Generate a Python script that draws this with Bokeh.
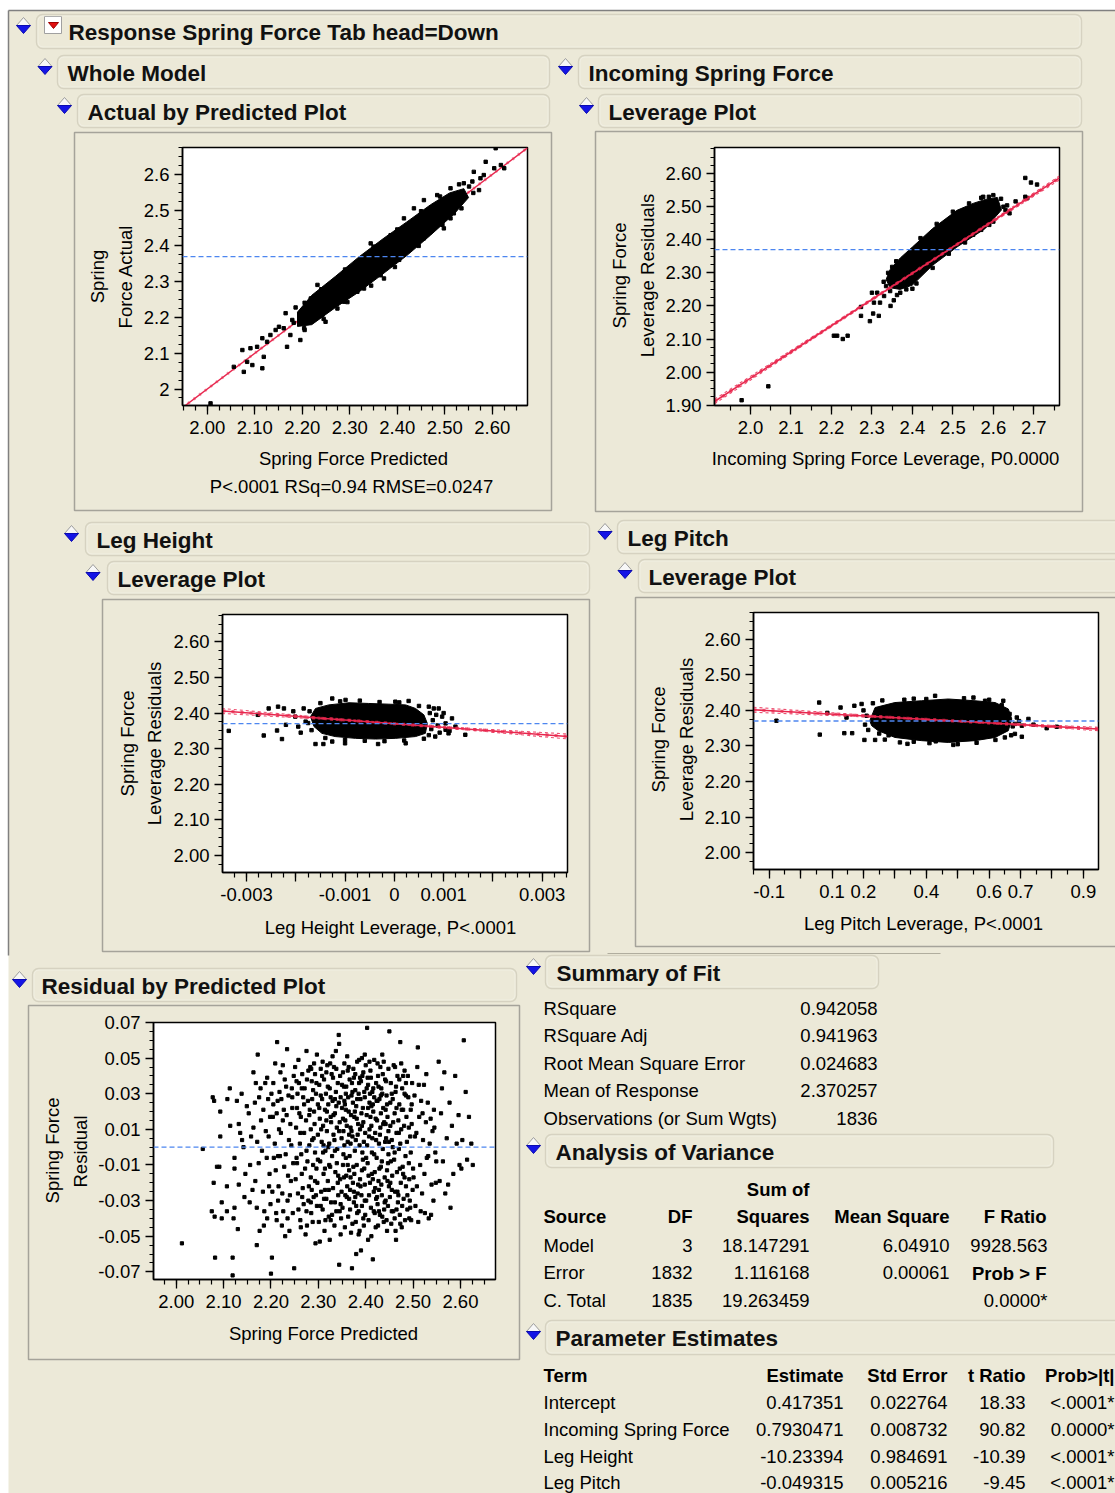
import numpy as np
from bokeh.plotting import figure
from bokeh.models import Range1d, FixedTicker, Span, BoxAnnotation, GridBox
from bokeh.core.properties import value
from bokeh.embed import file_html
from bokeh.resources import INLINE

FONT = "Liberation Sans"
PAGE_BG = "#ece9d8"
RED = "#e8264d"
REF_BLUE = "#4d86f0"
W, H = 1115, 1493

# ---------------- model results ----------------
mean_response = 2.370257
coef_incoming = 0.7930471
coef_height = -10.23394
coef_pitch = -0.049315
incoming_center = 2.49
height_center = 0.0
pitch_center = 0.49

summary_terms = ["RSquare", "RSquare Adj", "Root Mean Square Error",
                 "Mean of Response", "Observations (or Sum Wgts)"]
summary_values = ["0.942058", "0.941963", "0.024683", "2.370257", "1836"]

anova_source = ["Model", "Error", "C. Total"]
anova_df = ["3", "1832", "1835"]
anova_ss = ["18.147291", "1.116168", "19.263459"]
anova_ms = ["6.04910", "0.00061", ""]
anova_f = ["9928.563", "", "0.0000*"]

param_terms = ["Intercept", "Incoming Spring Force", "Leg Height", "Leg Pitch"]
param_est = ["0.417351", "0.7930471", "-10.23394", "-0.049315"]
param_se = ["0.022764", "0.008732", "0.984691", "0.005216"]
param_t = ["18.33", "90.82", "-10.39", "-9.45"]
param_p = ["<.0001*", "0.0000*", "<.0001*", "<.0001*"]

# ---------------- axis ticks ----------------
pred_ticks = [2.0, 2.1, 2.2, 2.3, 2.4, 2.5, 2.6]
pred_labels = ["2.00", "2.10", "2.20", "2.30", "2.40", "2.50", "2.60"]
actual_labels = ["2", "2.1", "2.2", "2.3", "2.4", "2.5", "2.6"]
lev_y_ticks = [1.9, 2.0, 2.1, 2.2, 2.3, 2.4, 2.5, 2.6]
lev_y_labels = ["1.90", "2.00", "2.10", "2.20", "2.30", "2.40", "2.50", "2.60"]
inc_x_ticks = [2.0, 2.1, 2.2, 2.3, 2.4, 2.5, 2.6, 2.7]
inc_x_labels = ["2.0", "2.1", "2.2", "2.3", "2.4", "2.5", "2.6", "2.7"]
hgt_x_ticks = [-0.003, -0.002, -0.001, 0.0, 0.001, 0.002, 0.003]
hgt_x_labels = ["-0.003", "", "-0.001", "0", "0.001", "", "0.003"]
pit_x_ticks = [-0.1, 0.0, 0.1, 0.2, 0.3, 0.4, 0.5, 0.6, 0.7, 0.8, 0.9]
pit_x_labels = ["-0.1", "", "0.1", "0.2", "", "0.4", "", "0.6", "0.7", "", "0.9"]
res_y_ticks = [-0.07, -0.05, -0.03, -0.01, 0.01, 0.03, 0.05, 0.07]
res_y_labels = ["-0.07", "-0.05", "-0.03", "-0.01", "0.01", "0.03", "0.05", "0.07"]

# ---------------- point clouds ----------------
# Actual by Predicted: dense core outline and individual points
abp_core = [(2.19, 2.215), (2.22, 2.262), (2.27, 2.315), (2.32, 2.37), (2.37, 2.42),
            (2.42, 2.467), (2.47, 2.515), (2.51, 2.548), (2.54, 2.56), (2.55, 2.535),
            (2.52, 2.49), (2.47, 2.43), (2.42, 2.373), (2.37, 2.322), (2.32, 2.272),
            (2.27, 2.228), (2.22, 2.18), (2.19, 2.175)]
abp_points = [(2.007, 1.960), (2.056, 2.062), (2.077, 2.048), (2.074, 2.109), (2.095, 2.067),
              (2.116, 2.058), (2.119, 2.090), (2.084, 2.076), (2.091, 2.114), (2.105, 2.118),
              (2.116, 2.142), (2.126, 2.132), (2.133, 2.151), (2.144, 2.165), (2.151, 2.174),
              (2.165, 2.212), (2.168, 2.118), (2.175, 2.151), (2.196, 2.137), (2.204, 2.170),
              (2.161, 2.170), (2.179, 2.193), (2.196, 2.188), (2.214, 2.221), (2.225, 2.198),
              (2.249, 2.188), (2.218, 2.253), (2.232, 2.291), (2.561, 2.607), (2.586, 2.635),
              (2.607, 2.673), (2.618, 2.626), (2.625, 2.617), (2.604, 2.617), (2.575, 2.589),
              (2.572, 2.556), (2.551, 2.566), (2.540, 2.575), (2.512, 2.561), (2.526, 2.519),
              (2.582, 2.598), (2.558, 2.580), (2.456, 2.528), (2.477, 2.505), (2.512, 2.477),
              (2.414, 2.477), (2.372, 2.309), (2.323, 2.337), (2.344, 2.407), (2.404, 2.361),
              (2.519, 2.491), (2.288, 2.244), (2.316, 2.272), (2.260, 2.291), (2.274, 2.225),
              (2.242, 2.207), (2.484, 2.542), (2.435, 2.505), (2.386, 2.430), (2.456, 2.421),
              (2.498, 2.449), (2.365, 2.318), (2.330, 2.281), (2.186, 2.228), (2.205, 2.241),
              (2.24, 2.279), (2.29, 2.334), (2.35, 2.398), (2.40, 2.446), (2.45, 2.497),
              (2.49, 2.538), (2.53, 2.572), (2.56, 2.548), (2.535, 2.505), (2.495, 2.459),
              (2.445, 2.400), (2.395, 2.341), (2.345, 2.289), (2.295, 2.243), (2.245, 2.196),
              (2.205, 2.165), (2.182, 2.185)]

# Incoming Spring Force leverage
inc_core = [(2.345, 2.31), (2.37, 2.345), (2.40, 2.378), (2.45, 2.434), (2.51, 2.489),
            (2.55, 2.51), (2.58, 2.522), (2.61, 2.528), (2.62, 2.49), (2.60, 2.462),
            (2.58, 2.434), (2.51, 2.378), (2.45, 2.323), (2.40, 2.263), (2.37, 2.25),
            (2.345, 2.255), (2.335, 2.28)]
inc_points = [(1.978, 1.915), (2.044, 1.957), (2.206, 2.110), (2.214, 2.110), (2.228, 2.100),
              (2.240, 2.110), (2.273, 2.197), (2.273, 2.170), (2.295, 2.154), (2.303, 2.177),
              (2.317, 2.170), (2.300, 2.240), (2.313, 2.240), (2.305, 2.210), (2.320, 2.210),
              (2.330, 2.230), (2.346, 2.200), (2.354, 2.217), (2.362, 2.233), (2.329, 2.273),
              (2.679, 2.587), (2.693, 2.573), (2.708, 2.567), (2.679, 2.530), (2.684, 2.526),
              (2.655, 2.516), (2.634, 2.504), (2.619, 2.524), (2.589, 2.530), (2.600, 2.535),
              (2.575, 2.530), (2.630, 2.490), (2.640, 2.480), (2.345, 2.245), (2.335, 2.260),
              (2.370, 2.240), (2.385, 2.250), (2.400, 2.252), (2.340, 2.300), (2.350, 2.318),
              (2.570, 2.430), (2.600, 2.455), (2.625, 2.500), (2.550, 2.415), (2.590, 2.445),
              (2.36, 2.335), (2.42, 2.405), (2.46, 2.448), (2.50, 2.485), (2.54, 2.510),
              (2.45, 2.315), (2.49, 2.358), (2.53, 2.392), (2.41, 2.268), (2.57, 2.527)]

# Leg Height leverage
hgt_core = [(-0.0017, 2.390), (-0.0016, 2.413), (-0.00133, 2.423), (-0.00092, 2.429),
            (-0.00052, 2.427), (-0.00011, 2.425), (0.00023, 2.423), (0.00043, 2.413),
            (0.0006, 2.395), (0.00067, 2.371), (0.00063, 2.343), (0.00043, 2.334),
            (0.00003, 2.329), (-0.00038, 2.327), (-0.00079, 2.329), (-0.0012, 2.334),
            (-0.00147, 2.343), (-0.00163, 2.362)]
hgt_points = [(-0.00336, 2.350), (-0.00277, 2.395), (-0.00255, 2.413), (-0.00236, 2.418),
              (-0.00224, 2.413), (-0.00265, 2.337), (-0.00238, 2.351), (-0.00228, 2.327),
              (-0.0022, 2.367), (-0.00201, 2.390), (-0.0019, 2.345), (-0.00184, 2.413),
              (-0.0018, 2.376), (-0.0016, 2.313), (-0.00144, 2.313), (-0.00126, 2.320),
              (-0.0010, 2.315), (-0.00033, 2.313), (0.00023, 2.315), (0.0007, 2.418),
              (0.0008, 2.413), (0.0009, 2.413), (0.00097, 2.390), (0.00104, 2.371),
              (0.00104, 2.353), (0.0011, 2.343), (0.00117, 2.385), (0.00124, 2.362),
              (0.00144, 2.339), (0.00083, 2.334), (-0.00126, 2.441), (-0.00099, 2.437),
              (0.00002, 2.432), (0.00029, 2.434), (-0.00172, 2.405), (-0.00175, 2.372),
              (-0.00168, 2.352), (-0.0015, 2.428), (-0.0011, 2.433), (-0.0007, 2.435),
              (-0.0003, 2.431), (0.0001, 2.430), (0.0005, 2.420), (0.00072, 2.400),
              (0.00078, 2.380), (0.00075, 2.355), (0.0007, 2.338), (0.0006, 2.328),
              (0.0002, 2.323), (-0.0002, 2.321), (-0.0006, 2.322), (-0.0010, 2.325),
              (-0.0014, 2.330), (0.00088, 2.365), (0.00092, 2.345), (0.0010, 2.400),
              (0.00112, 2.350), (0.00085, 2.395), (-0.00205, 2.405), (-0.00195, 2.362)]

# Leg Pitch leverage
pit_core = [(0.22, 2.371), (0.237, 2.408), (0.30, 2.422), (0.385, 2.427), (0.47, 2.432),
            (0.555, 2.427), (0.619, 2.422), (0.661, 2.404), (0.672, 2.376), (0.661, 2.343),
            (0.619, 2.324), (0.555, 2.315), (0.47, 2.310), (0.385, 2.315), (0.30, 2.324),
            (0.247, 2.343), (0.226, 2.357)]
pit_points = [(-0.077, 2.371), (0.059, 2.422), (0.085, 2.393), (0.061, 2.332), (0.127, 2.408),
              (0.139, 2.336), (0.146, 2.380), (0.164, 2.336), (0.171, 2.413), (0.194, 2.418),
              (0.203, 2.317), (0.237, 2.317), (0.268, 2.318), (0.316, 2.310), (0.340, 2.306),
              (0.430, 2.313), (0.486, 2.303), (0.560, 2.309), (0.704, 2.326), (0.704, 2.357),
              (0.725, 2.376), (0.741, 2.360), (0.783, 2.350), (0.815, 2.354), (0.645, 2.427),
              (0.428, 2.441), (0.550, 2.436), (0.587, 2.427), (0.682, 2.362), (0.682, 2.334),
              (0.650, 2.324), (0.200, 2.400), (0.210, 2.385), (0.205, 2.360), (0.215, 2.345),
              (0.230, 2.420), (0.260, 2.428), (0.330, 2.430), (0.360, 2.433), (0.400, 2.432),
              (0.520, 2.434), (0.600, 2.430), (0.640, 2.415), (0.665, 2.390), (0.675, 2.355),
              (0.688, 2.380), (0.695, 2.370), (0.670, 2.330), (0.620, 2.317), (0.500, 2.305),
              (0.410, 2.308), (0.360, 2.312), (0.280, 2.330), (0.250, 2.335)]

# Residual by Predicted: (predicted, residual)
resid_points = [
    (2.012, -0.054), (2.056, -0.001), (2.077, 0.028), (2.080, 0.026), (2.082, -0.062),
    (2.079, -0.020), (2.075, -0.036), (2.081, -0.039), (2.086, -0.011), (2.091, -0.011),
    (2.093, 0.006), (2.093, 0.020), (2.096, -0.040), (2.096, -0.031),
    (2.107, -0.022), (2.108, 0.027), (2.113, 0.033), (2.107, -0.036), (2.119, -0.062),
    (2.119, -0.072), (2.121, -0.040), (2.123, -0.034), (2.123, -0.006), (2.123, -0.012),
    (2.130, -0.046), (2.128, 0.026), (2.132, 0.013), (2.135, 0.008), (2.139, 0.004),
    (2.132, -0.021), (2.142, 0.000), (2.149, 0.023), (2.146, -0.015), (2.114, 0.012),
    (2.138, 0.030), (2.144, -0.028),
    (2.153, 0.019), (2.156, -0.010), (2.155, -0.031), (2.163, 0.042), (2.163, 0.011),
    (2.167, -0.019), (2.170, -0.034), (2.170, -0.055), (2.172, 0.052), (2.175, 0.028),
    (2.176, -0.047), (2.179, 0.015), (2.181, -0.002), (2.183, -0.025), (2.188, 0.036),
    (2.192, 0.039), (2.192, -0.040), (2.195, 0.006), (2.197, -0.015), (2.199, -0.032),
    (2.158, 0.006), (2.161, -0.024), (2.166, 0.025), (2.171, 0.003), (2.174, -0.009),
    (2.178, 0.033), (2.184, 0.021), (2.186, -0.036), (2.189, 0.009), (2.191, -0.006),
    (2.194, 0.027), (2.196, -0.022), (2.198, 0.017), (2.168, 0.036), (2.185, -0.044),
    (2.200, -0.071), (2.202, -0.062), (2.204, 0.017), (2.206, -0.006), (2.209, 0.047),
    (2.211, -0.037), (2.213, 0.059), (2.214, 0.026), (2.216, -0.022), (2.220, 0.042),
    (2.221, 0.008), (2.223, -0.044), (2.227, 0.021), (2.228, -0.011), (2.230, -0.050),
    (2.232, 0.034), (2.234, 0.055), (2.235, -0.030), (2.238, 0.004), (2.239, -0.047),
    (2.241, 0.013), (2.242, -0.019), (2.244, 0.033), (2.246, -0.037), (2.249, -0.068),
    (2.201, 0.030), (2.203, -0.025), (2.205, 0.036), (2.208, 0.002), (2.210, -0.013),
    (2.212, 0.019), (2.215, -0.030), (2.217, 0.010), (2.218, 0.031), (2.219, -0.005),
    (2.222, 0.027), (2.224, -0.026), (2.225, 0.015), (2.226, -0.036), (2.229, 0.038),
    (2.231, -0.004), (2.233, 0.018), (2.236, -0.016), (2.237, 0.029), (2.240, -0.027),
    (2.243, 0.001), (2.245, 0.022), (2.247, -0.009), (2.248, 0.040), (2.212, -0.041),
    (2.251, 0.045), (2.254, -0.006), (2.255, 0.022), (2.257, -0.026), (2.259, 0.036),
    (2.261, 0.002), (2.262, -0.041), (2.263, 0.017), (2.265, -0.015), (2.268, 0.028),
    (2.269, -0.032), (2.270, 0.008), (2.273, -0.049), (2.275, 0.054), (2.276, 0.038),
    (2.277, -0.008), (2.280, -0.022), (2.282, 0.021), (2.283, 0.045), (2.285, -0.037),
    (2.287, 0.004), (2.289, 0.032), (2.290, -0.028), (2.292, 0.013), (2.294, -0.054),
    (2.296, -0.012), (2.297, 0.052), (2.299, 0.024),
    (2.252, -0.018), (2.253, 0.011), (2.256, 0.030), (2.258, -0.035), (2.260, 0.019),
    (2.264, -0.004), (2.266, 0.041), (2.267, -0.023), (2.271, 0.033), (2.272, -0.012),
    (2.274, 0.015), (2.278, 0.026), (2.279, -0.030), (2.281, 0.001), (2.284, -0.017),
    (2.286, 0.037), (2.288, -0.042), (2.291, 0.020), (2.293, -0.003), (2.295, 0.030),
    (2.298, -0.020), (2.258, 0.049), (2.263, -0.045), (2.270, 0.024), (2.279, 0.043),
    (2.284, 0.010), (2.289, -0.010), (2.293, 0.041), (2.297, -0.033), (2.262, 0.008),
    (2.275, -0.002), (2.266, -0.028), (2.286, -0.024), (2.299, 0.007), (2.291, 0.047),
    (2.254, 0.037), (2.276, -0.044),
    (2.301, -0.042), (2.302, 0.035), (2.303, 0.016), (2.304, -0.008), (2.305, 0.044),
    (2.306, -0.025), (2.307, 0.003), (2.308, 0.027), (2.309, -0.035), (2.310, 0.012),
    (2.311, -0.015), (2.312, 0.038), (2.313, -0.047), (2.314, 0.021), (2.315, -0.002),
    (2.316, 0.030), (2.317, -0.029), (2.318, 0.009), (2.319, 0.046), (2.320, -0.019),
    (2.321, 0.024), (2.322, -0.039), (2.323, 0.002), (2.324, 0.033), (2.325, -0.011),
    (2.326, 0.017), (2.327, -0.031), (2.328, 0.041), (2.329, -0.005), (2.330, 0.026),
    (2.331, -0.023), (2.332, 0.007), (2.333, 0.045), (2.334, -0.044), (2.335, 0.019),
    (2.336, -0.014), (2.337, 0.031), (2.338, -0.036), (2.339, 0.011), (2.340, -0.001),
    (2.341, 0.036), (2.342, -0.027), (2.343, 0.063), (2.344, -0.066), (2.345, 0.014),
    (2.346, -0.018), (2.347, 0.028), (2.348, -0.040), (2.349, 0.005), (2.350, 0.022),
    (2.303, -0.053), (2.309, 0.048), (2.314, -0.012), (2.318, 0.020), (2.322, -0.024),
    (2.327, 0.014), (2.331, 0.039), (2.335, -0.031), (2.339, -0.009), (2.343, 0.025),
    (2.347, -0.049), (2.306, 0.010), (2.312, -0.029), (2.317, 0.042), (2.321, 0.000),
    (2.326, -0.041), (2.330, 0.051), (2.334, 0.004), (2.338, 0.023), (2.342, -0.016),
    (2.346, 0.040), (2.349, -0.025), (2.310, -0.003), (2.324, -0.052), (2.337, 0.054),
    (2.344, 0.058),
    (2.351, -0.034), (2.352, 0.042), (2.353, 0.009), (2.354, -0.017), (2.355, 0.026),
    (2.356, -0.045), (2.357, 0.015), (2.358, -0.006), (2.359, 0.034), (2.360, -0.028),
    (2.361, 0.051), (2.362, 0.003), (2.363, -0.039), (2.364, 0.020), (2.365, -0.013),
    (2.366, 0.038), (2.367, -0.024), (2.368, 0.011), (2.369, -0.048), (2.370, 0.029),
    (2.371, -0.068), (2.372, 0.006), (2.373, -0.020), (2.374, 0.044), (2.375, -0.031),
    (2.376, 0.017), (2.377, -0.002), (2.378, 0.032), (2.379, -0.042), (2.380, 0.023),
    (2.381, -0.010), (2.382, 0.048), (2.383, -0.026), (2.384, 0.013), (2.385, -0.036),
    (2.386, 0.036), (2.387, 0.001), (2.388, -0.018), (2.389, 0.027), (2.390, -0.058),
    (2.391, 0.019), (2.392, -0.033), (2.393, 0.040), (2.394, -0.007), (2.395, 0.014),
    (2.396, -0.044), (2.397, 0.031), (2.398, -0.021), (2.399, 0.008), (2.400, 0.046),
    (2.352, -0.010), (2.355, 0.001), (2.358, 0.021), (2.361, -0.022), (2.364, 0.045),
    (2.367, -0.035), (2.370, 0.009), (2.373, 0.025), (2.376, -0.015), (2.379, 0.004),
    (2.382, -0.037), (2.385, 0.030), (2.388, 0.010), (2.391, -0.027), (2.394, 0.022),
    (2.397, -0.012), (2.399, -0.038), (2.354, 0.034), (2.360, 0.012), (2.366, -0.005),
    (2.372, -0.043), (2.378, 0.041), (2.384, -0.021), (2.390, 0.037), (2.396, 0.003),
    (2.357, -0.027), (2.363, 0.028), (2.369, 0.018), (2.375, -0.025), (2.381, 0.016),
    (2.387, -0.047), (2.393, -0.003), (2.398, 0.052), (2.380, -0.060), (2.392, 0.050),
    (2.401, -0.030), (2.402, 0.018), (2.403, 0.067), (2.404, -0.009), (2.405, 0.035),
    (2.406, -0.041), (2.407, 0.006), (2.408, 0.025), (2.409, -0.020), (2.410, 0.043),
    (2.411, -0.034), (2.412, 0.012), (2.413, -0.003), (2.414, 0.031), (2.415, -0.063),
    (2.416, 0.020), (2.417, -0.025), (2.418, 0.049), (2.419, -0.014), (2.420, 0.008),
    (2.421, -0.045), (2.422, 0.036), (2.423, -0.006), (2.424, 0.015), (2.425, -0.032),
    (2.426, 0.040), (2.427, -0.019), (2.428, 0.002), (2.429, 0.027), (2.430, -0.038),
    (2.431, 0.011), (2.432, -0.011), (2.433, 0.033), (2.434, -0.027), (2.435, 0.052),
    (2.436, -0.001), (2.437, 0.022), (2.438, -0.042), (2.439, 0.014), (2.440, -0.017),
    (2.441, 0.038), (2.442, -0.030), (2.443, 0.005), (2.444, 0.029), (2.445, -0.047),
    (2.446, 0.017), (2.447, -0.009), (2.448, 0.044), (2.449, -0.022), (2.450, 0.065),
    (2.403, 0.001), (2.406, -0.016), (2.409, 0.030), (2.412, -0.050), (2.415, 0.024),
    (2.418, -0.004), (2.421, 0.016), (2.424, -0.028), (2.427, 0.034), (2.430, 0.007),
    (2.433, -0.021), (2.436, 0.041), (2.439, -0.035), (2.442, 0.021), (2.445, -0.013),
    (2.448, 0.009), (2.405, -0.052), (2.411, 0.039), (2.417, -0.036), (2.423, 0.026),
    (2.429, -0.012), (2.435, -0.039), (2.441, 0.003), (2.447, -0.033), (2.408, 0.048),
    (2.420, -0.023), (2.432, 0.019), (2.444, -0.041), (2.414, 0.005), (2.426, -0.044),
    (2.451, -0.028), (2.452, 0.012), (2.453, 0.036), (2.454, -0.043), (2.455, 0.004),
    (2.456, -0.016), (2.457, 0.027), (2.458, -0.036), (2.459, 0.046), (2.460, -0.007),
    (2.461, 0.019), (2.462, -0.025), (2.463, 0.031), (2.464, -0.052), (2.465, 0.008),
    (2.466, -0.014), (2.467, 0.040), (2.468, -0.031), (2.469, 0.015), (2.470, -0.001),
    (2.471, 0.024), (2.472, -0.038), (2.473, 0.059), (2.474, -0.020), (2.475, 0.010),
    (2.476, -0.045), (2.477, 0.033), (2.478, -0.011), (2.479, 0.021), (2.480, -0.029),
    (2.482, 0.043), (2.484, -0.005), (2.486, 0.017), (2.488, -0.035), (2.490, 0.028),
    (2.492, -0.018), (2.494, 0.006), (2.496, -0.041), (2.498, 0.036), (2.499, -0.024),
    (2.453, -0.008), (2.457, 0.000), (2.461, -0.040), (2.465, 0.022), (2.469, -0.027),
    (2.473, 0.002), (2.477, -0.033), (2.481, 0.012), (2.485, -0.022), (2.489, 0.040),
    (2.493, -0.030), (2.497, 0.013), (2.455, 0.030), (2.463, -0.047), (2.471, 0.038),
    (2.479, -0.015), (2.487, 0.003), (2.495, 0.021), (2.483, -0.041), (2.491, -0.009),
    (2.501, -0.017), (2.503, 0.029), (2.505, -0.033), (2.507, 0.008), (2.509, 0.045),
    (2.510, 0.056), (2.511, -0.042), (2.513, 0.017), (2.515, -0.010), (2.517, 0.026),
    (2.519, -0.026), (2.521, 0.004), (2.523, 0.035), (2.525, -0.037), (2.527, 0.014),
    (2.529, -0.006), (2.531, 0.025), (2.533, -0.040), (2.535, 0.002), (2.537, 0.016),
    (2.539, -0.021), (2.541, 0.009), (2.543, -0.030), (2.545, 0.011), (2.547, -0.003),
    (2.549, -0.008), (2.504, 0.006), (2.508, -0.022), (2.512, 0.035), (2.516, -0.036),
    (2.520, 0.019), (2.524, -0.015), (2.528, 0.041), (2.532, -0.005), (2.538, -0.038),
    (2.544, 0.021), (2.548, -0.020),
    (2.554, 0.048), (2.556, -0.019), (2.559, 0.019), (2.561, 0.033), (2.563, -0.008),
    (2.566, 0.042), (2.568, -0.026), (2.571, 0.005), (2.574, -0.021), (2.577, 0.025),
    (2.579, -0.034), (2.582, 0.012), (2.585, -0.015), (2.589, 0.040), (2.592, 0.002),
    (2.596, 0.018), (2.598, -0.010),
    (2.602, -0.012), (2.604, 0.004), (2.607, 0.060), (2.611, 0.031), (2.614, -0.007),
    (2.618, 0.017), (2.623, 0.002), (2.626, -0.010),
    (2.281, 0.018), (2.284, -0.031), (2.287, 0.027), (2.290, 0.005), (2.293, -0.019),
    (2.296, 0.036), (2.299, -0.007), (2.302, 0.022), (2.305, -0.033), (2.308, 0.040),
    (2.311, 0.001), (2.314, -0.024), (2.317, 0.015), (2.320, 0.034), (2.323, -0.010),
    (2.326, 0.028), (2.329, -0.038), (2.332, 0.018), (2.335, -0.002), (2.338, 0.044),
    (2.341, -0.020), (2.344, 0.009), (2.347, -0.032), (2.350, 0.035), (2.353, -0.004),
    (2.356, 0.024), (2.359, -0.016), (2.362, 0.043), (2.365, -0.029), (2.368, 0.002),
    (2.371, 0.036), (2.374, -0.011), (2.377, 0.020), (2.380, -0.033), (2.383, 0.007),
    (2.386, 0.049), (2.389, -0.022), (2.392, 0.012), (2.395, -0.040), (2.398, 0.028),
    (2.401, -0.006), (2.404, 0.039), (2.407, -0.027), (2.410, 0.017), (2.413, -0.015),
    (2.416, 0.033), (2.419, -0.037), (2.422, 0.004), (2.425, 0.026), (2.428, -0.024),
    (2.431, 0.045), (2.434, -0.008), (2.437, 0.013), (2.440, -0.031), (2.443, 0.037),
    (2.446, -0.019), (2.449, 0.003), (2.452, 0.025), (2.455, -0.036), (2.458, 0.014),
    (2.461, -0.003), (2.464, 0.034), (2.467, -0.025), (2.470, 0.008), (2.473, -0.043),
    (2.476, 0.021), (2.479, 0.040), (2.482, -0.017), (2.485, 0.029), (2.488, -0.027),
    (2.491, 0.011), (2.494, -0.034), (2.497, 0.024), (2.500, -0.012),
    (2.305, 0.029), (2.315, -0.041), (2.325, 0.047), (2.335, 0.027), (2.345, -0.036),
    (2.355, 0.047), (2.365, 0.007), (2.375, 0.039), (2.385, -0.049), (2.395, 0.042),
    (2.405, 0.022), (2.415, -0.018), (2.425, 0.047), (2.435, 0.030), (2.445, 0.024),
    (2.455, -0.024), (2.465, -0.035), (2.475, 0.047), (2.485, 0.036), (2.495, -0.003),
    (2.358, 0.030), (2.368, -0.017), (2.378, -0.028), (2.388, 0.039), (2.398, -0.030),
    (2.408, 0.010), (2.418, 0.028), (2.428, -0.036), (2.438, 0.048), (2.448, -0.004),
    (2.352, 0.016), (2.362, -0.010), (2.372, 0.031), (2.382, 0.027), (2.392, -0.013),
    (2.402, 0.033), (2.412, 0.023), (2.422, -0.029), (2.432, 0.029), (2.442, 0.013),
    (2.452, -0.020), (2.462, 0.045), (2.472, -0.012), (2.482, 0.030), (2.492, -0.040),
    (2.265, 0.033), (2.275, -0.036), (2.285, 0.044), (2.295, -0.027), (2.255, -0.009),
    (2.245, 0.028), (2.235, -0.040), (2.225, 0.046), (2.215, -0.005), (2.205, 0.024)]

# confidence half-widths around the fitted leverage lines
inc_conf_x = [1.911, 2.20, 2.49, 2.764]
inc_conf_hw = [0.007, 0.003, 0.0015, 0.006]
hgt_conf_x = [-0.0035, -0.0017, 0.0, 0.0017, 0.0035]
hgt_conf_hw = [0.007, 0.003, 0.0015, 0.003, 0.007]
pit_conf_x = [-0.15, 0.17, 0.49, 0.81, 0.948]
pit_conf_hw = [0.007, 0.003, 0.0015, 0.003, 0.005]


def xy(points):
    return [p[0] for p in points], [p[1] for p in points]


def minor(lo, hi, step):
    return [round(v, 6) for v in np.arange(lo, hi + step / 2, step)]


# ---------------- page background ----------------
bg = figure(width=W, height=H, x_range=Range1d(0, W), y_range=Range1d(H, 0),
            min_border=0, x_axis_location=None, y_axis_location=None,
            output_backend="svg", toolbar_location=None, tools="")
bg.grid.visible = False
bg.outline_line_color = None
bg.background_fill_color = "white"
bg.border_fill_color = "white"

bg.quad(left=[8], right=[W], top=[10], bottom=[H], fill_color=PAGE_BG, line_color=None)
bg.segment(x0=[8, 8], y0=[10, 10], x1=[W, 8], y1=[10, 955], line_color="#808080", line_width=1.5)
bg.segment(x0=[607], y0=[953], x1=[940], y1=[953], line_color="#b0ad9e", line_width=1.2)

# plot panels
panels = [(74, 551, 132, 510), (595, 1082, 131, 511), (102, 589, 599, 951),
          (635, 1125, 597, 946), (28, 519, 1005, 1359)]
bg.quad(left=[p[0] for p in panels], right=[p[1] for p in panels],
        top=[p[2] for p in panels], bottom=[p[3] for p in panels],
        fill_color=PAGE_BG, line_color="#a5a39a", line_width=1.5)

# outline headers: left, right, top, bottom, title, title x, icon x
headers = [
    (36, 1081, 14, 48, "Response Spring Force Tab head=Down", 68, 23),
    (57, 549, 55, 88, "Whole Model", 67, 44.5),
    (578, 1081, 55, 88, "Incoming Spring Force", 588, 565),
    (77, 549, 94, 127, "Actual by Predicted Plot", 87, 64),
    (598, 1081, 94, 127, "Leverage Plot", 608, 586),
    (85, 589, 522, 555, "Leg Height", 96, 71),
    (107, 589, 561, 594, "Leverage Plot", 117, 92.5),
    (617, 1125, 520, 553, "Leg Pitch", 627, 604.5),
    (638, 1125, 559, 592, "Leverage Plot", 648, 624.5),
    (32, 516, 968, 1001, "Residual by Predicted Plot", 41, 19),
    (545, 878, 955, 988, "Summary of Fit", 556, 533),
    (545, 1053, 1134, 1167, "Analysis of Variance", 555, 533),
    (545, 1125, 1320, 1354, "Parameter Estimates", 555, 533),
]
for (l, r, t, b, _, _, _) in headers:
    bg.add_layout(BoxAnnotation(left=l, right=r, top=t, bottom=b, fill_alpha=0,
                                line_color="#a29e8a", line_width=1.4, border_radius=6))
    bg.add_layout(BoxAnnotation(left=l + 1.5, right=r - 1.5, top=t + 1.5, bottom=b - 1.5,
                                fill_alpha=0, line_color="white", line_width=1,
                                border_radius=5))

bg.text(x=[h[5] for h in headers], y=[(h[2] + h[3]) / 2 + 1 for h in headers],
        text=[h[4] for h in headers], text_font=value(FONT), text_font_size="22.5px",
        text_font_style="bold", text_baseline="middle", text_align="left", text_color="#111111")

# disclosure icons
icon_up_xs, icon_up_ys, icon_dn_xs, icon_dn_ys = [], [], [], []
for h in headers:
    cx, mid = h[6], h[2] + 11
    icon_up_xs.append([cx - 7, cx + 7, cx])
    icon_up_ys.append([mid, mid, mid - 8])
    icon_dn_xs.append([cx - 7, cx + 7, cx])
    icon_dn_ys.append([mid, mid, mid + 8])
bg.patches(icon_up_xs, icon_up_ys, fill_color="#f7f7f7", line_color="#9c9c9c", line_width=1)
bg.patches(icon_dn_xs, icon_dn_ys, fill_color="#1414e6", line_color="#0a0ab0", line_width=1)

# red menu icon of the top header
bg.quad(left=[44], right=[61], top=[16], bottom=[33], fill_color="white",
        line_color="#a0a0a0", line_width=1)
bg.patch([48, 58, 53], [22, 22, 28], fill_color="#e01010", line_color="#a00000")


def put(xs, ys, texts, align="left", bold=False, size="18.5px", angle=0.0):
    bg.text(x=xs, y=ys, text=texts, text_font=value(FONT), text_font_size=size,
            text_font_style="bold" if bold else "normal", text_align=align,
            text_baseline="middle", angle=angle, text_color="black")


# axis titles
put([353, 885, 390, 923, 323], [458, 458, 927, 923, 1333],
    ["Spring Force Predicted", "Incoming Spring Force Leverage, P0.0000",
     "Leg Height Leverage, P<.0001", "Leg Pitch Leverage, P<.0001", "Spring Force Predicted"],
    align="center")
put([351], [486], ["P<.0001 RSq=0.94 RMSE=0.0247"], align="center")
put([97, 125, 619, 647, 127, 154, 658, 686, 52, 80],
    [276, 276, 275, 275, 743, 743, 739, 739, 1150, 1151],
    ["Spring", "Force Actual", "Spring Force", "Leverage Residuals",
     "Spring Force", "Leverage Residuals", "Spring Force", "Leverage Residuals",
     "Spring Force", "Residual"],
    align="center", angle=np.pi / 2)

# Summary of Fit table
sum_rows = [1008, 1035, 1062.5, 1090, 1117.5]
put([543] * 5, sum_rows, summary_terms)
put([877] * 5, sum_rows, summary_values, align="right")

# Analysis of Variance table
put([809], [1188.5], ["Sum of"], align="right", bold=True)
put([543], [1216], ["Source"], bold=True)
put([692, 809, 949, 1046], [1216] * 4, ["DF", "Squares", "Mean Square", "F Ratio"],
    align="right", bold=True)
anova_rows = [1244.5, 1272, 1299.5]
put([543] * 3, anova_rows, anova_source)
put([692] * 3, anova_rows, anova_df, align="right")
put([809] * 3, anova_rows, anova_ss, align="right")
put([949] * 3, anova_rows, anova_ms, align="right")
put([1047] * 3, anova_rows, anova_f, align="right")
put([1046], [1272.5], ["Prob > F"], align="right", bold=True)

# Parameter Estimates table
put([543], [1375], ["Term"], bold=True)
put([843, 947, 1025, 1114], [1375] * 4, ["Estimate", "Std Error", "t Ratio", "Prob>|t|"],
    align="right", bold=True)
par_rows = [1402, 1429, 1456, 1482]
put([543] * 4, par_rows, param_terms)
put([843] * 4, par_rows, param_est, align="right")
put([947] * 4, par_rows, param_se, align="right")
put([1025] * 4, par_rows, param_t, align="right")
put([1114] * 4, par_rows, param_p, align="right")

# ---------------- scatter plots ----------------
# every scatter plot shares the same border sizes; each one sits in the second grid
# cell and is pulled back over the page by a negative margin
LB, TB, RB, BB = 72, 12, 6, 48


def scatter_plot(frame_left, frame_top, x_rng, y_rng, xt, xl, xmin, yt, yl, ymin,
                 fw=345, fh=258):
    p = figure(width=LB + fw + RB, height=TB + fh + BB, sizing_mode="fixed",
               min_border_left=LB, min_border_right=RB, min_border_top=TB, min_border_bottom=BB,
               x_range=Range1d(*x_rng), y_range=Range1d(*y_rng),
               output_backend="svg", toolbar_location=None, tools="")
    p.margin = (frame_top - TB - H, 0, 0, frame_left - LB - W)
    p.border_fill_alpha = 0
    p.background_fill_color = "white"
    p.outline_line_color = "black"
    p.outline_line_width = 1.5
    p.grid.visible = False
    p.xaxis.ticker = FixedTicker(ticks=xt, minor_ticks=xmin)
    p.yaxis.ticker = FixedTicker(ticks=yt, minor_ticks=ymin)
    p.xaxis.major_label_overrides = dict(zip(xt, xl))
    p.yaxis.major_label_overrides = dict(zip(yt, yl))
    for ax in (p.xaxis[0], p.yaxis[0]):
        ax.axis_line_color = "black"
        ax.axis_line_width = 1.5
        ax.major_tick_line_color = "black"
        ax.minor_tick_line_color = "black"
        ax.major_tick_line_width = 1.3
        ax.minor_tick_line_width = 1.2
        ax.major_tick_in = 0
        ax.minor_tick_in = 0
        ax.major_label_text_font = FONT
        ax.major_label_text_font_size = "18.5px"
        ax.major_label_text_color = "black"
    p.xaxis.major_tick_out = 9
    p.xaxis.minor_tick_out = 5
    p.xaxis.major_label_standoff = 6
    p.yaxis.major_tick_out = 8
    p.yaxis.minor_tick_out = 4
    p.yaxis.major_label_standoff = 5
    return p


def mean_line(p, loc):
    p.add_layout(Span(location=loc, dimension="width", line_color=REF_BLUE,
                      line_dash="5 3", line_width=1.3))


def fit_lines(p, fx, fy, cx, cy, hw):
    p.line(cx, [a + b for a, b in zip(cy, hw)], line_color=RED, line_dash="3 3", line_width=1.1, alpha=0.8)
    p.line(cx, [a - b for a, b in zip(cy, hw)], line_color=RED, line_dash="3 3", line_width=1.1, alpha=0.8)
    p.line(fx, fy, line_color=RED, line_width=1.6)
    p.line(fx, fy, line_color=RED, line_width=3.2, line_dash="3 6", alpha=0.7)


# Actual by Predicted
p1 = scatter_plot(182, 147, (1.948, 2.674), (1.954, 2.675),
                  pred_ticks, pred_labels, minor(1.95, 2.675, 0.025),
                  pred_ticks, actual_labels, minor(1.95, 2.675, 0.025))
mean_line(p1, mean_response)
p1.line([1.948, 2.674], [1.948, 2.674], line_color=RED, line_width=1.4)
p1.line([1.948, 2.674], [1.948, 2.674], line_color=RED, line_width=3, line_dash="2 5", alpha=0.5)
cx, cy = xy(abp_core)
p1.patch(cx, cy, color="black")
px, py = xy(abp_points)
p1.scatter(px, py, marker="square", size=3.4, color="black")

# Incoming Spring Force leverage
p2 = scatter_plot(714, 147, (1.911, 2.7635), (1.899, 2.679),
                  inc_x_ticks, inc_x_labels, minor(1.95, 2.75, 0.05),
                  lev_y_ticks, lev_y_labels, minor(1.9, 2.675, 0.025))
mean_line(p2, mean_response)
cx, cy = xy(inc_core)
p2.patch(cx, cy, color="black")
px, py = xy(inc_points)
p2.scatter(px, py, marker="square", size=3.4, color="black")
fx = [1.911, 2.7635]
fit_lines(p2, fx, [mean_response + coef_incoming * (v - incoming_center) for v in fx],
          inc_conf_x, [mean_response + coef_incoming * (v - incoming_center) for v in inc_conf_x],
          inc_conf_hw)

# Leg Height leverage
p3 = scatter_plot(222, 614, (-0.003487, 0.003514), (1.952, 2.677),
                  hgt_x_ticks, hgt_x_labels, minor(-0.0035, 0.0035, 0.00025),
                  lev_y_ticks[1:], lev_y_labels[1:], minor(1.95, 2.675, 0.025))
mean_line(p3, mean_response)
cx, cy = xy(hgt_core)
p3.patch(cx, cy, color="black")
px, py = xy(hgt_points)
p3.scatter(px, py, marker="square", size=3.4, color="black")
fx = [-0.003487, 0.003514]
fit_lines(p3, fx, [mean_response + coef_height * (v - height_center) for v in fx],
          hgt_conf_x, [mean_response + coef_height * (v - height_center) for v in hgt_conf_x],
          hgt_conf_hw)

# Leg Pitch leverage
p4 = scatter_plot(753, 612, (-0.15, 0.948), (1.953, 2.675),
                  pit_x_ticks, pit_x_labels, minor(-0.15, 0.95, 0.05),
                  lev_y_ticks[1:], lev_y_labels[1:], minor(1.95, 2.675, 0.025), fh=257)
mean_line(p4, mean_response)
cx, cy = xy(pit_core)
p4.patch(cx, cy, color="black")
px, py = xy(pit_points)
p4.scatter(px, py, marker="square", size=3.4, color="black")
fx = [-0.15, 0.948]
fit_lines(p4, fx, [mean_response + coef_pitch * (v - pitch_center) for v in fx],
          pit_conf_x, [mean_response + coef_pitch * (v - pitch_center) for v in pit_conf_x],
          pit_conf_hw)

# Residual by Predicted
p5 = scatter_plot(153, 1022, (1.952, 2.674), (-0.0743, 0.07),
                  pred_ticks, pred_labels, minor(1.95, 2.675, 0.025),
                  res_y_ticks, res_y_labels, minor(-0.07, 0.07, 0.005), fw=342, fh=257)
mean_line(p5, 0.0)
px, py = xy(resid_points)
p5.scatter(px, py, marker="square", size=3.2, color="black")

page = GridBox(children=[(bg, 0, 0), (p1, 1, 1), (p2, 1, 1), (p3, 1, 1), (p4, 1, 1), (p5, 1, 1)],
               spacing=0)

open("out.html", "w").write(file_html(page, INLINE))
